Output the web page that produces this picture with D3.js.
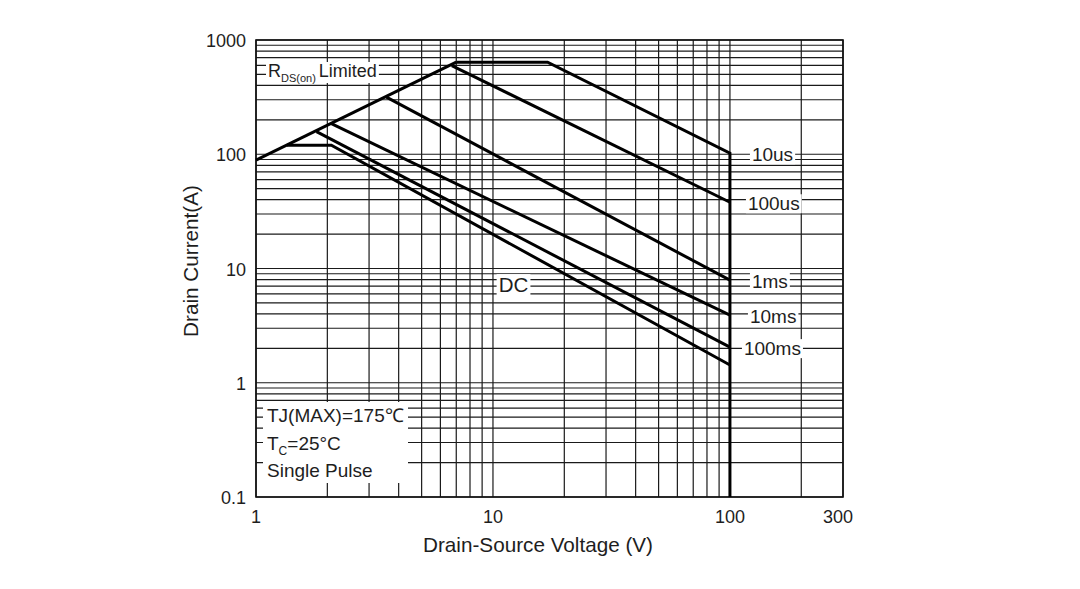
<!DOCTYPE html>
<html>
<head>
<meta charset="utf-8">
<script src="https://cdn.jsdelivr.net/npm/d3@7"></script>
<style>
  body { margin: 0; background: #fff; }
  text { font-family: "Liberation Sans", Arial, sans-serif; fill: #1e1e1e; }
</style>
</head>
<body>
<div id="chart"></div>
<script>
// axis ticks
var xTickLabels = [1, 10, 100, 300];
var yTickLabels = [0.1, 1, 10, 100, 1000];

// SOA boundary, (volts, amps)
var rdsLimit = [[1, 89], [7, 640]];
var curve10us = [[7, 640], [17, 640], [100, 102], [100, 0.1]];
var curve100us = [[6.7, 596], [100, 38]];
var curve1ms = [[3.55, 316], [100, 7.9]];
var curve10ms = [[2.08, 185], [100, 3.9]];
var curve100ms = [[1.8, 158], [100, 2.05]];
var curveDC = [[1.35, 120], [2.08, 120], [100, 1.43]];

var curveNames = ['10us', '100us', '1ms', '10ms', '100ms'];
var curveEnds = [102, 38, 7.9, 3.9, 2.05];

var width = 1080, height = 589;
var margin = {top: 40, right: 237, bottom: 92, left: 256};

var svg = d3.select('#chart').append('svg')
    .attr('width', width)
    .attr('height', height);

var xScale = d3.scaleLog().domain([1, 300]).range([margin.left, width - margin.right]);
var yScale = d3.scaleLog().domain([0.1, 1000]).range([height - margin.bottom, margin.top]);

var grid_g = svg.append('g');
var box_g = svg.append('g');
var curve_g = svg.append('g');
var text_g = svg.append('g');

// grid
grid_g.selectAll('line.vx')
    .data(xScale.ticks())
    .enter().append('line')
    .attr('x1', d => xScale(d)).attr('x2', d => xScale(d))
    .attr('y1', yScale(0.1)).attr('y2', yScale(1000))
    .style('stroke', '#1a1a1a').style('stroke-width', 1.2);

grid_g.selectAll('line.hy')
    .data(yScale.ticks())
    .enter().append('line')
    .attr('y1', d => yScale(d)).attr('y2', d => yScale(d))
    .attr('x1', xScale(1)).attr('x2', xScale(300))
    .style('stroke', '#1a1a1a').style('stroke-width', 1.2);

grid_g.append('rect')
    .attr('x', xScale(1)).attr('y', yScale(1000))
    .attr('width', xScale(300) - xScale(1))
    .attr('height', yScale(0.1) - yScale(1000))
    .style('fill', 'none').style('stroke', '#111').style('stroke-width', 1.6);

// tick labels
text_g.selectAll('text.xt')
    .data(xTickLabels)
    .enter().append('text')
    .attr('x', d => xScale(d) - (d == 300 ? 5 : 0))
    .attr('y', yScale(0.1) + 26)
    .attr('text-anchor', 'middle')
    .style('font-size', '18px')
    .text(d => d);

text_g.selectAll('text.yt')
    .data(yTickLabels)
    .enter().append('text')
    .attr('x', xScale(1) - 10)
    .attr('y', d => yScale(d) + 7)
    .attr('text-anchor', 'end')
    .style('font-size', '18px')
    .text(d => d);

text_g.append('text')
    .attr('x', 538).attr('y', 552)
    .attr('text-anchor', 'middle')
    .style('font-size', '20.7px')
    .text('Drain-Source Voltage (V)');

text_g.append('text')
    .attr('transform', 'translate(198,261) rotate(-90)')
    .attr('text-anchor', 'middle')
    .style('font-size', '20.7px')
    .text('Drain Current(A)');

// curves
var line = d3.line()
    .x(d => xScale(d[0]))
    .y(d => yScale(d[1]));

[rdsLimit, curve10us, curve100us, curve1ms, curve10ms, curve100ms, curveDC].forEach(function(c){
    curve_g.append('path')
        .datum(c)
        .attr('d', line)
        .style('fill', 'none')
        .style('stroke', '#000')
        .style('stroke-width', 3)
        .style('stroke-linejoin', 'miter');
});

// labels with white boxes
function boxed(t, padX, padY){
    var b = t.node().getBBox();
    box_g.append('rect')
        .attr('x', b.x - padX).attr('y', b.y - padY)
        .attr('width', b.width + 2 * padX).attr('height', b.height + 2 * padY)
        .style('fill', '#fff');
    return t;
}

var labelDx = {'10us': 22, '100us': 18, '1ms': 22, '10ms': 20, '100ms': 14};
curveNames.forEach(function(name, i){
    var t = text_g.append('text')
        .attr('x', xScale(100) + labelDx[name])
        .attr('y', yScale(curveEnds[i]) + 8)
        .style('font-size', '19px')
        .text(name);
    boxed(t, 2, -1);
});

boxed(text_g.append('text')
    .attr('x', xScale(12.2)).attr('y', yScale(7.3) + 8)
    .attr('text-anchor', 'middle')
    .style('font-size', '20.5px')
    .text('DC'), 2, -1);

var rds = text_g.append('text')
    .attr('x', 268).attr('y', 77)
    .style('font-size', '18px');
rds.append('tspan').text('R');
rds.append('tspan').attr('dy', 5).style('font-size', '11px').text('DS(on)');
rds.append('tspan').attr('dy', -5).attr('dx', 3).text('Limited');
boxed(rds, 2, -1);

// conditions box
var cond = [['TJ(MAX)=175\u2103', null], ['T', 'C', '=25\u00b0C'], ['Single Pulse', null]];
var condY = [422, 450, 477];
box_g.append('rect')
    .attr('x', 263).attr('y', 402)
    .attr('width', 145).attr('height', 81)
    .style('fill', '#fff');
cond.forEach(function(c, i){
    var t = text_g.append('text')
        .attr('x', 267).attr('y', condY[i])
        .style('font-size', '19px');
    if (c.length == 3) {
        t.append('tspan').text(c[0]);
        t.append('tspan').attr('dy', 5).style('font-size', '12px').text(c[1]);
        t.append('tspan').attr('dy', -5).text(c[2]);
    } else {
        t.text(c[0]);
    }
});
</script>
</body>
</html>
